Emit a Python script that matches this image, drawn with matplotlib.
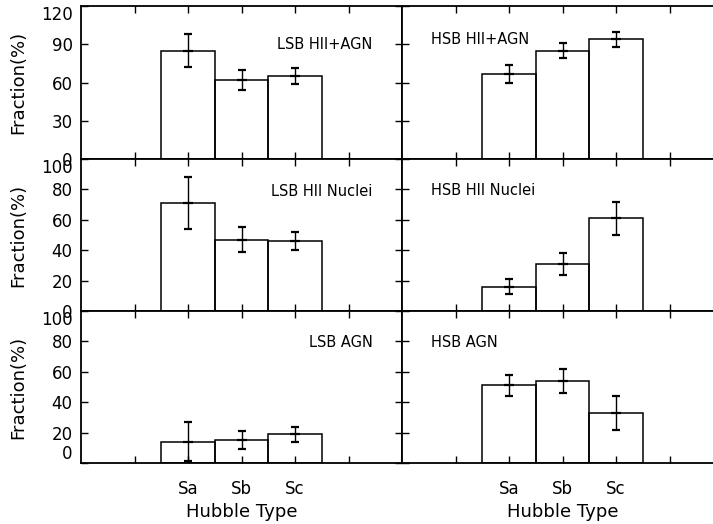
import numpy as np
import matplotlib
matplotlib.use("Agg")
import matplotlib.pyplot as plt

# data
types = ["Sa", "Sb", "Sc"]
xpos = [2, 3, 4]

lsb_all = [85, 62, 65]
lsb_all_err = [13, 8, 6]
hsb_all = [67, 85, 94]
hsb_all_err = [7, 6, 6]

lsb_hii = [71, 47, 46]
lsb_hii_err = [17, 8, 6]
hsb_hii = [16, 31, 61]
hsb_hii_err = [5, 7, 11]

lsb_agn = [14, 15, 19]
lsb_agn_err = [13, 6, 5]
hsb_agn = [51, 54, 33]
hsb_agn_err = [7, 8, 11]

plt.rcParams["font.family"] = "DejaVu Sans"
plt.rcParams["font.size"] = 12

fig = plt.figure(figsize=(7.13, 5.24), dpi=100)

W, H = 713.0, 524.0
left_x = 81 / W
right_x = 402 / W
pw = 321 / W
rows = [(6, 159), (159, 311), (311, 463)]  # top/bottom pixel rows

panels = [
    [(lsb_all, lsb_all_err, "LSB HII+AGN", 90), (hsb_all, hsb_all_err, "HSB HII+AGN", 94)],
    [(lsb_hii, lsb_hii_err, "LSB HII Nuclei", 78.5), (hsb_hii, hsb_hii_err, "HSB HII Nuclei", 79)],
    [(lsb_agn, lsb_agn_err, "LSB AGN", 79), (hsb_agn, hsb_agn_err, "HSB AGN", 79)],
]

for r, (top, bot) in enumerate(rows):
    y0 = (H - bot) / H
    h = (bot - top) / H
    for c in range(2):
        vals, errs, label, ty = panels[r][c]
        ax = fig.add_axes([left_x if c == 0 else right_x, y0, pw, h])
        ax.bar(xpos, vals, width=1.0, fill=False, edgecolor="black", linewidth=1.1)
        ax.errorbar(xpos, vals, yerr=errs, fmt="_", color="black", ecolor="black",
                    elinewidth=1.0, capsize=3.2, capthick=1.0, markersize=7, mew=1.6)
        ax.set_xlim(0, 6)
        if r == 0:
            ax.set_ylim(0, 120)
            ax.set_yticks([0, 30, 60, 90, 120])
        else:
            ax.set_ylim(0, 100)
            ax.set_yticks([0, 20, 40, 60, 80, 100])
        ax.set_xticks([1, 2, 3, 4, 5])
        if r == 2:
            ax.set_xticklabels([""] + types + [""])
            ax.set_xlabel("Hubble Type", fontsize=13, labelpad=4)
        else:
            ax.set_xticklabels([])
        ax.tick_params(direction="in", top=True, right=True, length=5, width=1.0,
                       pad=6, labelsize=12)
        ax.tick_params(axis="x", pad=12)
        for s in ax.spines.values():
            s.set_linewidth(1.3)
        if c == 0:
            ax.set_ylabel("Fraction(%)", fontsize=13)
            ax.yaxis.set_label_coords(-0.168, 0.5)
            ax.text(5.45, ty, label, ha="right", va="center", fontsize=10.5)
            fig.canvas.draw()
            labs = ax.get_yticklabels()
            labs[-1].set_va("top")
            if r == 2:
                labs[0].set_va("bottom")
        else:
            ax.set_yticklabels([])
            ax.text(0.54, ty, label, ha="left", va="center", fontsize=10.5)

fig.savefig("out.png", dpi=100)
